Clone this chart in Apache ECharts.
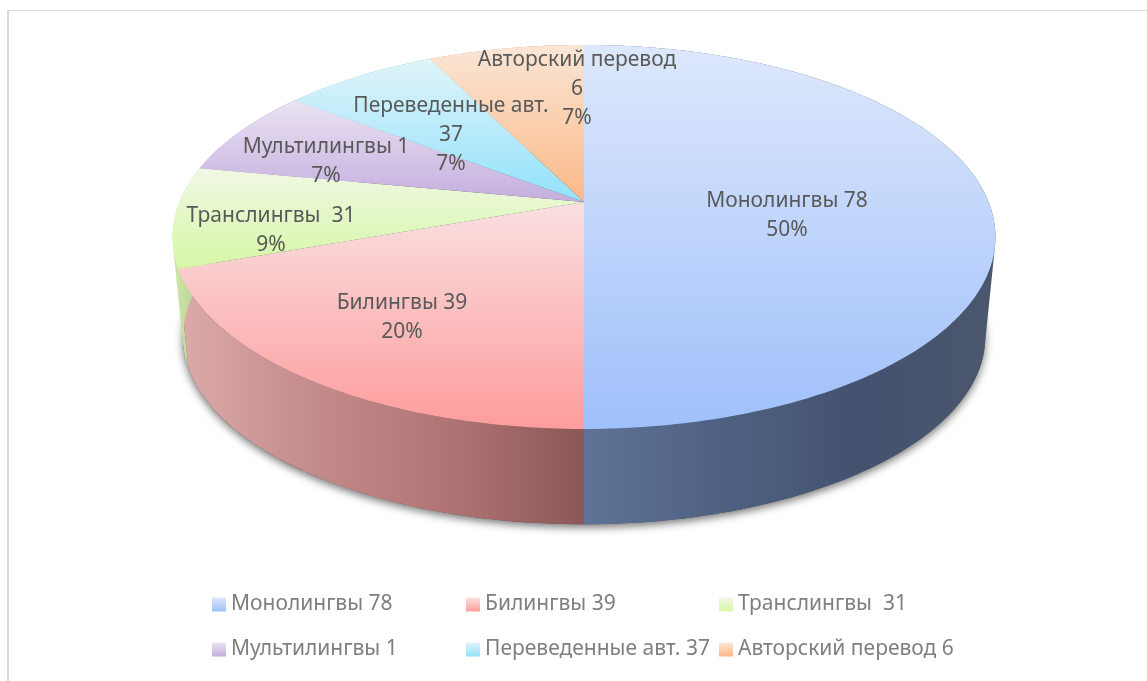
<!DOCTYPE html>
<html>
<head>
<meta charset="utf-8">
<title>Pie</title>
<script src="https://cdn.jsdelivr.net/npm/echarts@6/dist/echarts.min.js"></script>
<style>
  html, body { margin: 0; padding: 0; background: #fff; }
  #chart { width: 1147px; height: 681px; }
</style>
</head>
<body>
<div id="chart"></div>
<script>
// data
const legendNames = ["Монолингвы 78", "Билингвы 39", "Транслингвы  31", "Мультилингвы 1", "Переведенные авт. 37", "Авторский перевод 6"];
const labelNames = ["Монолингвы 78", "Билингвы 39", "Транслингвы  31", "Мультилингвы 1", "Переведенные авт.\n37", "Авторский перевод\n6"];
const shares = [50, 19.5, 8.5, 7.4, 7.3, 7.3];

// styles
const topStart = ["#dde8fb", "#fae0e1", "#f0f8e4", "#ebe3f3", "#e0f4fa", "#fae6d6"];
const topEnd = ["#9fc0fb", "#fd9c9c", "#d6f7a6", "#c3aede", "#92e2fb", "#fbb887"];
const wallStops = [
  ["#5e7396", "#4f6183", "#445270", "#4b576d"],
  ["#dcaaaa", "#c48b8b", "#b17474", "#8b5757"],
  ["#cfe6ad", "#c5de9f", "#b8d090", "#a8c080"],
  ["#b8a8cc", "#a898bc", "#9888ac", "#88789c"],
  ["#9cd0e0", "#8cc0d0", "#7cb0c0", "#6ca0b0"],
  ["#e0b090", "#d0a080", "#c09070", "#b08060"]
];
const labelCentres = [[787, 216], [402, 318], [271, 231], [326, 162], [451, 135], [577, 89]];
const legendSpots = [[212, 594], [466, 594], [719, 594], [212, 639], [466, 639], [719, 639]];
const fontFamily = '"Noto Sans", sans-serif';
const fontSize = 21;

// perspective rims
const topRim = { cx: 584, cy: 202, a: 404.6, b: 185.7, k: 0.182 };
const lowRim = { cx: 584, cy: 303, a: 394.5, b: 181, k: 0.182 };

function project(rim, share) {
  const ang = (share / 100) * Math.PI * 2;
  const u = Math.sin(ang);
  const v = -Math.cos(ang);
  const w = 1 - rim.k * v;
  return [rim.cx + (rim.a * u) / w, rim.cy + (rim.b * v) / w];
}

function arc(rim, from, to) {
  const pts = [];
  const steps = Math.max(2, Math.ceil((to - from) * 3));
  for (let i = 0; i <= steps; i++) {
    pts.push(project(rim, from + ((to - from) * i) / steps));
  }
  return pts;
}

// side wall as one path of quads, all wound the same way so they fill as a union
function wallPath(from, to) {
  const up = arc(topRim, from, to);
  const low = arc(lowRim, from, to);
  let d = "";
  for (let i = 0; i < up.length - 1; i++) {
    let quad = [up[i], up[i + 1], low[i + 1], low[i]];
    let area = 0;
    quad.forEach((p, j) => {
      const q = quad[(j + 1) % 4];
      area += p[0] * q[1] - q[0] * p[1];
    });
    if (area < 0) quad = quad.reverse();
    d += "M" + quad.map((p) => p[0].toFixed(2) + " " + p[1].toFixed(2)).join("L") + "Z";
  }
  return d;
}

function vertical(c0, c1) {
  return {
    type: "linear", x: 0, y: 0, x2: 0, y2: 1,
    colorStops: [{ offset: 0, color: c0 }, { offset: 1, color: c1 }]
  };
}

function horizontal(colors) {
  return {
    type: "linear", x: 0, y: 0, x2: 1, y2: 0,
    colorStops: colors.map((c, i) => ({ offset: i / (colors.length - 1), color: c }))
  };
}

const total = shares.reduce((s, v) => s + v, 0);
let running = 0;
const series = shares.map((val, idx) => {
  const from = running;
  running += val;
  return {
    type: "custom",
    name: legendNames[idx],
    coordinateSystem: "none",
    silent: true,
    itemStyle: { color: vertical(topStart[idx], topEnd[idx]) },
    data: [[from, from + val]],
    renderItem(params, api) {
      const start = api.value(0);
      const end = api.value(1);
      const children = [];
      if (idx === 0) {
        // soft shadow under the whole disc
        children.push({
          type: "polygon",
          z2: 0,
          shape: { points: arc(lowRim, 0, 100) },
          style: { fill: "#555", shadowBlur: 9, shadowColor: "rgba(0,0,0,0.55)", shadowOffsetY: 3 }
        });
      }
      children.push({
        type: "path",
        z2: 1,
        shape: { pathData: wallPath(start, end) },
        style: { fill: horizontal(wallStops[idx]) }
      });
      children.push({
        type: "polygon",
        z2: 2,
        shape: { points: [[topRim.cx, topRim.cy]].concat(arc(topRim, start, end)) },
        style: { fill: vertical(topStart[idx], topEnd[idx]) }
      });
      children.push({
        type: "text",
        z2: 3,
        style: {
          text: labelNames[idx] + "\n" + Math.round((val / total) * 100) + "%",
          x: labelCentres[idx][0],
          y: labelCentres[idx][1],
          align: "center",
          verticalAlign: "middle",
          fontFamily: fontFamily,
          fontSize: fontSize,
          lineHeight: 29,
          fill: "#595959"
        }
      });
      return { type: "group", children: children };
    }
  };
});

const chart = echarts.init(document.getElementById("chart"));
chart.setOption({
  animation: false,
  backgroundColor: "#fff",
  graphic: [
    { type: "rect", shape: { x: 7, y: 10, width: 1140, height: 1 }, style: { fill: "#dcdcdc" } },
    { type: "rect", shape: { x: 7, y: 10, width: 2, height: 671 }, style: { fill: "#d9d9d9" } }
  ],
  legend: legendNames.map((name, i) => ({
    data: [name],
    left: legendSpots[i][0],
    top: legendSpots[i][1],
    padding: 0,
    itemWidth: 14,
    itemHeight: 14,
    icon: "rect",
    selectedMode: false,
    textStyle: { color: "#7f7f7f", fontFamily: fontFamily, fontSize: fontSize }
  })),
  series: series
});
</script>
</body>
</html>
